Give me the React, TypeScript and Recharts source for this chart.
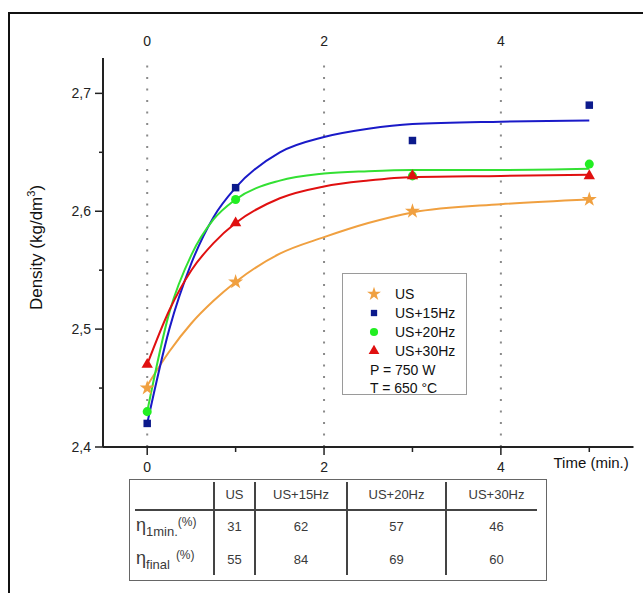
import React from "react";
import { ComposedChart, Line, Scatter, XAxis, YAxis, ReferenceLine, Symbols } from "recharts";

// fitted curves
const curveTimes = [0, 0.25, 0.5, 0.75, 1, 1.5, 2, 2.5, 3, 4, 5];
const usCurve = [2.452, 2.481, 2.505, 2.524, 2.54, 2.564, 2.578, 2.59, 2.599, 2.606, 2.61];
const us15Curve = [2.42, 2.5, 2.556, 2.595, 2.62, 2.65, 2.663, 2.67, 2.674, 2.676, 2.677];
const us20Curve = [2.43, 2.514, 2.563, 2.593, 2.61, 2.626, 2.632, 2.634, 2.635, 2.635, 2.636];
const us30Curve = [2.47, 2.516, 2.55, 2.573, 2.59, 2.611, 2.621, 2.626, 2.629, 2.63, 2.631];

// measured points
const sampleTimes = [0, 1, 3, 5];
const usPoints = [2.45, 2.54, 2.6, 2.61];
const us15Points = [2.42, 2.62, 2.66, 2.69];
const us20Points = [2.43, 2.61, 2.63, 2.64];
const us30Points = [2.47, 2.59, 2.63, 2.63];

const xTicks = [0, 1, 2, 3, 4, 5];
const yTicks = [2.4, 2.45, 2.5, 2.55, 2.6, 2.65, 2.7];
const gridTimes = [0, 2, 4]; // dotted verticals, also labelled along the top

const tableHeaders = ["US", "US+15Hz", "US+20Hz", "US+30Hz"];
const eta1min = [31, 62, 57, 46];
const etaFinal = [55, 84, 69, 60];

const FONT = "'Liberation Sans', Arial, sans-serif";

const toPts = (xs: number[], ys: number[]) => xs.map((x, i) => ({ x, y: ys[i] }));

const series = [
  { name: "US", curve: usCurve, pts: usPoints, line: "#f0a040", mark: "#f0a040", shape: "star", size: 70, lsize: 60 },
  { name: "US+15Hz", curve: us15Curve, pts: us15Points, line: "#1a1ac8", mark: "#0c1a8c", shape: "square", size: 56, lsize: 40 },
  { name: "US+20Hz", curve: us20Curve, pts: us20Points, line: "#33e033", mark: "#22ee22", shape: "circle", size: 64, lsize: 52 },
  { name: "US+30Hz", curve: us30Curve, pts: us30Points, line: "#e01010", mark: "#e01010", shape: "triangle", size: 56, lsize: 50 },
];

const BottomTick = ({ x, y, payload }: any) => {
  const major = payload.value % 2 === 0;
  return (
    <g>
      <line x1={x} y1={y} x2={x} y2={y + (major ? 8 : 5)} stroke="#222" strokeWidth={1.5} />
      {major && (
        <text x={x} y={y + 25} textAnchor="middle" fontSize={14} fill="#222" fontFamily={FONT}>
          {payload.value}
        </text>
      )}
    </g>
  );
};

const TopLabel = ({ viewBox, text }: any) => (
  <text x={viewBox.x} y={viewBox.y - 12} textAnchor="middle" fontSize={14} fill="#222" fontFamily={FONT}>
    {text}
  </text>
);

const LeftTick = ({ x, y, payload }: any) => {
  const major = Math.round(payload.value * 100) % 10 === 0;
  return (
    <g>
      <line x1={x - (major ? 8 : 4)} y1={y} x2={x} y2={y} stroke="#222" strokeWidth={1.5} />
      {major && (
        <text x={x - 12} y={y + 5} textAnchor="end" fontSize={14} fill="#222" fontFamily={FONT}>
          {payload.value.toFixed(1).replace(".", ",")}
        </text>
      )}
    </g>
  );
};

const TimeLabel = ({ viewBox }: any) => (
  <text x={viewBox.x + viewBox.width - 80} y={viewBox.y + 21} fontSize={15} fill="#111" fontFamily={FONT}>
    Time (min.)
  </text>
);

const DensityLabel = ({ viewBox }: any) => {
  const cy = viewBox.y + viewBox.height / 2 - 5;
  return (
    <text transform={`translate(42,${cy}) rotate(-90)`} textAnchor="middle" fontSize={17} fill="#111" fontFamily={FONT}>
      Density (kg/dm<tspan dy={-7} fontSize={11}>3</tspan>
      <tspan dy={7}>)</tspan>
    </text>
  );
};

const colX = [129, 214, 255, 347, 446, 547];

const Cell = ({ x, y, children }: any) => (
  <div
    style={{
      position: "absolute",
      left: x - 60,
      width: 120,
      top: y - 9,
      height: 18,
      lineHeight: "18px",
      textAlign: "center",
      fontSize: 13,
      color: "#3a3a3a",
    }}
  >
    {children}
  </div>
);

const EtaLabel = ({ y, sub, gap }: any) => (
  <div style={{ position: "absolute", left: 136, top: y - 12, height: 24, whiteSpace: "nowrap", color: "#3a3a3a" }}>
    <span style={{ fontSize: 18 }}>η</span>
    <span style={{ fontSize: 13, position: "relative", top: 5 }}>{sub}</span>
    <span style={{ fontSize: 12, position: "relative", top: -5, marginLeft: gap }}>(%)</span>
  </div>
);

export default function App() {
  return (
    <div
      style={{
        position: "absolute",
        left: 0,
        top: 0,
        width: 643,
        height: 593,
        overflow: "hidden",
        background: "#fff",
        fontFamily: FONT,
      }}
    >
      <div
        style={{
          position: "absolute",
          left: 8,
          top: 12,
          width: 700,
          height: 700,
          border: "2px solid #111",
        }}
      />
      <div style={{ position: "absolute", left: 0, top: 0 }}>
        <ComposedChart width={643} height={593} margin={{ top: 58, right: 9.5, bottom: 116, left: 0 }}>
          <XAxis
            type="number"
            dataKey="x"
            domain={[-0.5, 5.5]}
            ticks={xTicks}
            interval={0}
            height={30}
            axisLine={{ stroke: "#222", strokeWidth: 2 }}
            tickLine={false}
            tickSize={0}
            tickMargin={0}
            tick={<BottomTick />}
            label={<TimeLabel />}
          />
          <YAxis
            type="number"
            dataKey="y"
            domain={[2.4, 2.73]}
            ticks={yTicks}
            interval={0}
            width={103}
            axisLine={{ stroke: "#222", strokeWidth: 2 }}
            tickLine={false}
            tickSize={0}
            tickMargin={0}
            tick={<LeftTick />}
            label={<DensityLabel />}
          />
          {gridTimes.map((t) => (
            <ReferenceLine
              key={t}
              x={t}
              stroke="#8a8a8a"
              strokeWidth={2}
              strokeDasharray="2 9.5"
              label={<TopLabel text={t} />}
            />
          ))}
          {series.map((s) => (
            <Line
              key={s.name + "-fit"}
              data={toPts(curveTimes, s.curve)}
              dataKey="y"
              type="monotone"
              stroke={s.line}
              strokeWidth={2}
              dot={false}
              activeDot={false}
              isAnimationActive={false}
            />
          ))}
          {series.map((s) => (
            <Scatter
              key={s.name}
              data={toPts(sampleTimes, s.pts)}
              dataKey="y"
              isAnimationActive={false}
              shape={(p: any) => <Symbols cx={p.cx} cy={p.cy} type={s.shape as any} size={s.size} fill={s.mark} />}
            />
          ))}
        </ComposedChart>
      </div>

      {/* legend box */}
      <div
        style={{
          position: "absolute",
          left: 342,
          top: 273,
          width: 123,
          height: 120,
          border: "1px solid #9a9a9a",
          background: "#fff",
        }}
      >
        <svg width={123} height={120} style={{ position: "absolute", left: 0, top: 0 }}>
          {series.map((s, i) => (
            <Symbols key={s.name} cx={31} cy={20 + i * 19} type={s.shape as any} size={s.lsize} fill={s.mark} />
          ))}
        </svg>
        {series.map((s, i) => (
          <div key={s.name} style={{ position: "absolute", left: 52, top: 11 + i * 19, fontSize: 14, lineHeight: "18px", color: "#111" }}>
            {s.name}
          </div>
        ))}
        <div style={{ position: "absolute", left: 27, top: 87, fontSize: 14, lineHeight: "18px", color: "#111" }}>P = 750 W</div>
        <div style={{ position: "absolute", left: 27, top: 105, fontSize: 14, lineHeight: "18px", color: "#111", whiteSpace: "nowrap" }}>
          T = 650 °C
        </div>
      </div>

      {/* efficiency table */}
      <div
        style={{
          position: "absolute",
          left: 129,
          top: 479,
          width: 416,
          height: 100,
          border: "1.5px solid #666",
        }}
      />
      <div style={{ position: "absolute", left: 135, top: 509, width: 402, height: 2, background: "#444" }} />
      {colX.slice(1, 5).map((x) => (
        <div key={x} style={{ position: "absolute", left: x - 1, top: 482, width: 2, height: 93, background: "#444" }} />
      ))}
      {tableHeaders.map((h, i) => (
        <Cell key={h} x={(colX[i + 1] + colX[i + 2]) / 2} y={495}>
          {h}
        </Cell>
      ))}
      {eta1min.map((v, i) => (
        <Cell key={"a" + i} x={(colX[i + 1] + colX[i + 2]) / 2} y={527}>
          {v}
        </Cell>
      ))}
      {etaFinal.map((v, i) => (
        <Cell key={"b" + i} x={(colX[i + 1] + colX[i + 2]) / 2} y={560}>
          {v}
        </Cell>
      ))}
      <EtaLabel y={527} sub="1min." gap={0} />
      <EtaLabel y={560} sub="final" gap={6} />
    </div>
  );
}
